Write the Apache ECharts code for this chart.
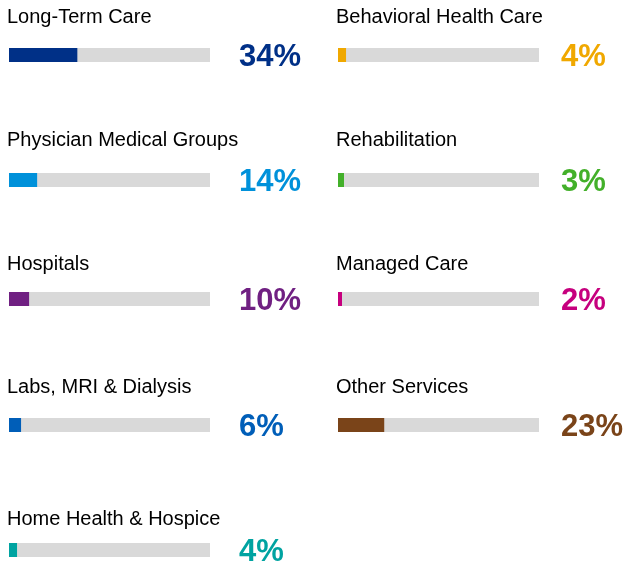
<!DOCTYPE html>
<html>
<head>
<meta charset="utf-8">
<style>
  html, body { margin: 0; padding: 0; background: #fff; }
  #chart { width: 626px; height: 565px; }
</style>
<script src="https://cdn.jsdelivr.net/npm/echarts@6/dist/echarts.min.js"></script>
</head>
<body>
<div id="chart"></div>
<script>
// segment shares (left column top-down, then right column)
const categories = [
  'Long-Term Care', 'Physician Medical Groups', 'Hospitals', 'Labs, MRI & Dialysis', 'Home Health & Hospice',
  'Behavioral Health Care', 'Rehabilitation', 'Managed Care', 'Other Services'
]
const values = [34, 14, 10, 6, 4, 4, 3, 2, 23]
const colors = [
  '#003087', '#0091da', '#702082', '#005eb8', '#00a3a1',
  '#f0a800', '#43b02a', '#c6007e', '#7a4419'
]

// layout
const barTops = [48, 173, 292, 418, 543]
const labelTops = [7, 130, 254, 377, 509]
const colLeft = [9, 338]
const barLen = 201
const pctGap = [29, 22]

const font = '"Liberation Sans", Arial, Helvetica, sans-serif'

const grid = []
const xAxis = []
const yAxis = []
const series = []
const title = []

categories.forEach((name, i) => {
  const col = i < 5 ? 0 : 1
  const row = i < 5 ? i : i - 5
  grid.push({ left: colLeft[col], top: barTops[row], width: barLen, height: 14 })
  xAxis.push({ gridIndex: i, type: 'value', min: 0, max: 100, show: false })
  yAxis.push({ gridIndex: i, type: 'category', data: [name], show: false })
  title.push({
    text: name,
    left: colLeft[col] - 2,
    top: labelTops[row],
    padding: 0,
    textStyle: { fontFamily: font, fontSize: 20, fontWeight: 'normal', color: '#000' }
  })
  series.push({
    type: 'bar',
    xAxisIndex: i,
    yAxisIndex: i,
    data: [100],
    barWidth: 14,
    silent: true,
    itemStyle: { color: '#d9d9d9' },
    label: {
      show: true,
      position: 'right',
      distance: pctGap[col],
      offset: [0, 2],
      formatter: () => values[i] + '%',
      fontFamily: font,
      fontSize: 31,
      fontWeight: 'bold',
      color: colors[i]
    }
  })
  series.push({
    type: 'bar',
    xAxisIndex: i,
    yAxisIndex: i,
    data: [values[i]],
    barWidth: 14,
    barGap: '-100%',
    silent: true,
    itemStyle: { color: colors[i] }
  })
})

const myChart = echarts.init(document.getElementById('chart'))
myChart.setOption({
  animation: false,
  title,
  grid,
  xAxis,
  yAxis,
  series
})
</script>
</body>
</html>
